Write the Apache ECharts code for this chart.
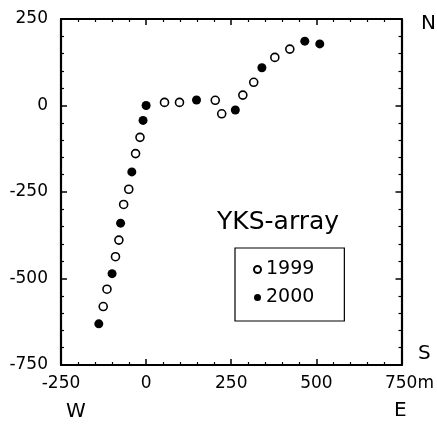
<!DOCTYPE html>
<html>
<head>
<meta charset="utf-8">
<script src="https://cdn.jsdelivr.net/npm/echarts@6/dist/echarts.min.js"></script>
<style>
  html, body { margin: 0; padding: 0; background: #fff; }
  #main { width: 437px; height: 424px; }
</style>
</head>
<body>
<div id="main"></div>
<script>
// station positions (m), east-west / north-south
const pts1999 = [
    [54, 9], [98, 9], [203, 15], [222, -24], [284, 30], [316, 67], [378, 139], [422, 163],
    [-18, -92], [-31, -139], [-51, -242], [-66, -286], [-80, -389], [-90, -437],
    [-115, -531], [-126, -581]
];
const pts2000 = [
    [0, 0], [-9, -43], [-42, -192], [-75, -340], [-100, -486], [-139, -631],
    [148, 16], [262, -13], [340, 109], [466, 186], [510, 178]
];
const xTicks = [-250, 0, 250, 500, 750];
const yTicks = [-750, -500, -250, 0, 250];

const font = '"DejaVu Sans", sans-serif';
const ink = '#000';

const axisBase = {
    interval: 250,
    axisLine: { show: true, onZero: false, lineStyle: { color: ink, width: 2.2 } },
    axisTick: { show: true, inside: true, length: 6, lineStyle: { color: ink, width: 1.5 } },
    minorTick: { show: true, splitNumber: 5, length: 3, lineStyle: { color: ink, width: 1.2 } },
    splitLine: { show: false }
};
const xRange = { min: xTicks[0], max: xTicks[xTicks.length - 1] };
const yRange = { min: yTicks[0], max: yTicks[yTicks.length - 1] };

const chart = echarts.init(document.getElementById('main'));
chart.setOption({
    animation: false,
    backgroundColor: '#fff',
    grid: { left: 61, top: 19, right: 32, bottom: 59 },
    xAxis: [
        Object.assign({}, axisBase, xRange, {
            type: 'value', position: 'bottom',
            axisLabel: {
                color: ink, fontSize: 17, fontFamily: font, margin: 10,
                formatter: v => (v === 750 ? '{m|750m}' : String(v)),
                rich: { m: { fontSize: 17, fontFamily: font, color: ink, padding: [0, 0, 0, 16] } }
            }
        }),
        Object.assign({}, axisBase, xRange, {
            type: 'value', position: 'top', axisLabel: { show: false }
        })
    ],
    yAxis: [
        Object.assign({}, axisBase, yRange, {
            type: 'value', position: 'left',
            axisLabel: { color: ink, fontSize: 17, fontFamily: font, margin: 13 }
        }),
        Object.assign({}, axisBase, yRange, {
            type: 'value', position: 'right', axisLabel: { show: false }
        })
    ],
    legend: {
        left: 235, top: 248,
        orient: 'vertical',
        padding: [12, 30, 14, 18],
        itemGap: 9,
        itemWidth: 7, itemHeight: 7,
        borderColor: ink, borderWidth: 1.2,
        textStyle: { color: ink, fontSize: 19, fontFamily: font },
        data: ['1999', '2000']
    },
    graphic: [
        { type: 'text', left: 217, top: 210, style: { text: 'YKS-array', font: '25px ' + font, fill: ink } },
        { type: 'text', left: 421, top: 14, style: { text: 'N', font: '20px ' + font, fill: ink } },
        { type: 'text', left: 418, top: 344, style: { text: 'S', font: '20px ' + font, fill: ink } },
        { type: 'text', left: 66, top: 402, style: { text: 'W', font: '20px ' + font, fill: ink } },
        { type: 'text', left: 394, top: 401, style: { text: 'E', font: '20px ' + font, fill: ink } }
    ],
    series: [
        {
            name: '1999', type: 'scatter', data: pts1999,
            symbol: 'circle', symbolSize: 8,
            itemStyle: { color: '#fff', borderColor: ink, borderWidth: 1.6, opacity: 1 }
        },
        {
            name: '2000', type: 'scatter', data: pts2000,
            symbol: 'circle', symbolSize: 9,
            itemStyle: { color: ink, borderColor: ink, borderWidth: 0, opacity: 1 }
        }
    ]
});
</script>
</body>
</html>
